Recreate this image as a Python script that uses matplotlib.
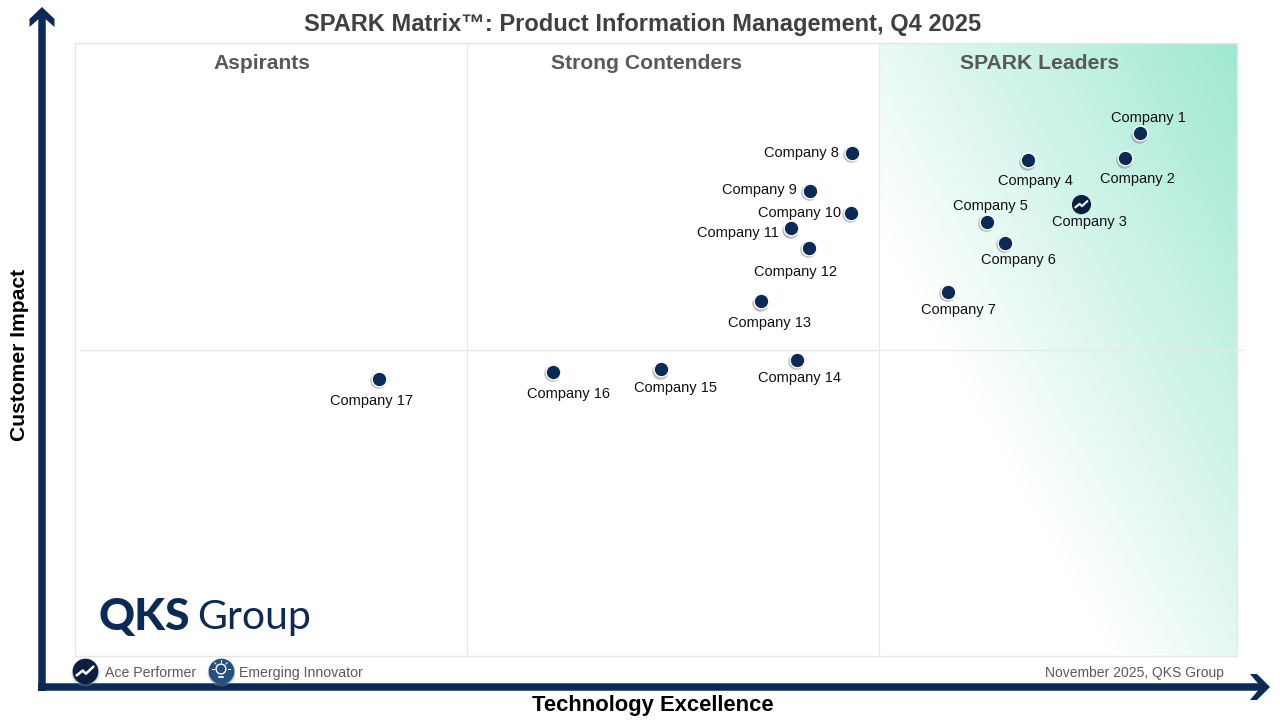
import numpy as np
import matplotlib
matplotlib.use("Agg")
import matplotlib.pyplot as plt
from matplotlib.path import Path
from matplotlib.transforms import Affine2D
from matplotlib.colors import LinearSegmentedColormap

plt.rcParams["font.family"] = ["Liberation Sans", "DejaVu Sans"]

companies = ["Company %d" % i for i in range(1, 18)]
tech_score = [91.65, 90.4, 86.6, 82.0, 78.5, 80.0, 75.1, 66.9, 63.25, 66.8, 61.6, 63.2, 59.0, 62.1, 50.4, 41.1, 26.2]
impact_score = [85.3, 81.2, 73.7, 80.9, 70.8, 67.4, 59.4, 82.1, 75.9, 72.3, 69.8, 66.6, 57.9, 48.3, 46.8, 46.4, 45.2]
ace_performers = ["Company 3"]
quadrants = ["Aspirants", "Strong Contenders", "SPARK Leaders"]
quadrant_edges = [0, 33.75, 69.2, 100]
impact_split = 50

# label offsets from the point, in pixels (x right, y down)
label_off = [(8, -15), (12, 21), (8, 18), (8, 21), (3, -16), (14, 17), (11, 18),
             (-51, 0), (-51, -1), (-52, 0), (-53, 5), (-14, 24), (9, 22), (3, 18),
             (15, 19), (16, 22), (-8, 22)]

navy = "#0b2a56"
grey = "#404040"
soft = "#595959"
W, H = 1280, 720

fig = plt.figure(figsize=(12.8, 7.2), dpi=100)

# page layer in pixels, for arrows and loose text
page = fig.add_axes([0, 0, 1, 1], zorder=0)
page.set_xlim(0, W)
page.set_ylim(H, 0)
page.axis("off")

# plot panel
L, T, R, B = 75, 43, 1237, 656
ax = fig.add_axes([L / W, 1 - B / H, (R - L) / W, (B - T) / H], zorder=1)
ax.set_xlim(0, 100)
ax.set_ylim(0, 100)
ax.set_xticks([])
ax.set_yticks([])
ax.patch.set_alpha(0)
for s in ax.spines.values():
    s.set_color("#e6e6e6")
    s.set_linewidth(1.0)

# gradient in the leaders box, strongest in the top right corner
x0 = quadrant_edges[2]
gx, gy = np.meshgrid(np.linspace(0, 1, 300), np.linspace(0, 1, 500))
t = np.clip((gx + 0.94 * gy - 0.65) / 1.29, 0, 1)
cmap = LinearSegmentedColormap.from_list("lead", ["#ffffff", "#9fe8d2"])
ax.imshow(t, extent=[x0, 100, 0, 100], origin="lower", cmap=cmap, vmin=0, vmax=1,
          aspect="auto", zorder=0)

for e in quadrant_edges[1:3]:
    ax.plot([e, e], [0, 100], color="#e8e8e8", lw=0.9, zorder=1)
page.plot([80, 1243], [350, 350], color="#e8e8e8", lw=0.9, zorder=1)
ax.plot([0.5, 100], [impact_split, impact_split], color="#e8e8e8", lw=0.9, zorder=1)

quad_x = [16.1, 49.15, 83.05]
for qx, q in zip(quad_x, quadrants):
    ax.text(qx, 96.7, q, ha="center", va="center", fontsize=15.2, fontweight="bold", color=soft)

# points: shadow, white ring, navy dot
size = 92
shift = ax.transData + Affine2D().translate(-1, -1.5)
ax.scatter(tech_score, impact_score, s=size + 50, c="#8f8f8f", alpha=0.6, linewidths=0, zorder=3, transform=shift)
ax.scatter(tech_score, impact_score, s=size + 42, c="white", linewidths=0, zorder=4)
ax.scatter(tech_score, impact_score, s=size, c=navy, linewidths=0, zorder=5)

zig = Path([(-1, -0.55), (-0.25, 0.05), (0.1, -0.3), (1, 0.55)])
for name, x, y, off in zip(companies, tech_score, impact_score, label_off):
    ax.annotate(name, (x, y), xytext=(off[0] * 0.72, -off[1] * 0.72), textcoords="offset points",
                ha="center", va="center", fontsize=10.5, color="#111111", zorder=6)
    if name in ace_performers:
        ax.scatter(x, y, s=190, c="#0b2040", linewidths=0, zorder=6)
        ax.scatter(x, y, s=90, marker=zig, facecolors="none", edgecolors="white", linewidths=1.5, zorder=7)

# axis arrows
page.plot([41.8, 41.8], [691, 14], color=navy, lw=5.4, solid_capstyle="butt")
page.plot([38, 1262], [687, 687], color=navy, lw=5.4, solid_capstyle="butt")
page.fill([42, 54.5, 54.5, 42, 29.5, 29.5], [7, 19, 27, 16, 27, 19], color=navy, lw=0)
page.fill([1270, 1257, 1250, 1261, 1250, 1257], [687, 674, 674, 687, 700, 700], color=navy, lw=0)

page.text(643, 24, "SPARK Matrix\u2122: Product Information Management, Q4 2025", ha="center", va="center",
          fontsize=17, fontweight="bold", color=grey)
page.text(652.5, 706, "Technology Excellence", ha="center", va="center", fontsize=15.8, fontweight="bold", color="black")
page.text(20, 354.5, "Customer Impact", ha="center", va="center", rotation=90, fontsize=15.2, fontweight="bold", color="black")

# logo
page.text(99, 617, "QKS", ha="left", va="center", fontsize=32, fontweight="black", family="Lato", color=navy)
page.text(197, 618, "Group", ha="left", va="center", fontsize=29.5, family="Lato", color=navy)

# legend
page.scatter([85], [672], s=400, c="#8a8a8a", alpha=0.4, linewidths=0, zorder=2)
page.scatter([85], [671], s=340, c="#0b2040", linewidths=0, zorder=3)
page.scatter([85], [671], s=170, marker=zig, facecolors="none", edgecolors="white", linewidths=1.8, zorder=4)
page.text(105, 673, "Ace Performer", ha="left", va="center", fontsize=10.2, color=soft)

page.scatter([221], [672], s=400, c="#8a8a8a", alpha=0.4, linewidths=0, zorder=2)
page.scatter([221], [671], s=340, c="#25507f", linewidths=0, zorder=3)
page.scatter([221], [669], s=50, facecolors="none", edgecolors="white", linewidths=1, zorder=4)
page.plot([219, 223], [677, 677], color="white", lw=1.2, zorder=4)
for a in np.radians([0, 45, 90, 135, 180]):
    page.plot([221 + 7 * np.cos(a), 221 + 9 * np.cos(a)], [669 - 7 * np.sin(a), 669 - 9 * np.sin(a)],
              color="white", lw=0.7, zorder=4)
page.text(239, 673, "Emerging Innovator", ha="left", va="center", fontsize=10.2, color=soft)

page.text(1224, 672.5, "November 2025, QKS Group", ha="right", va="center", fontsize=10, color=soft)

fig.savefig("out.png", dpi=100)
